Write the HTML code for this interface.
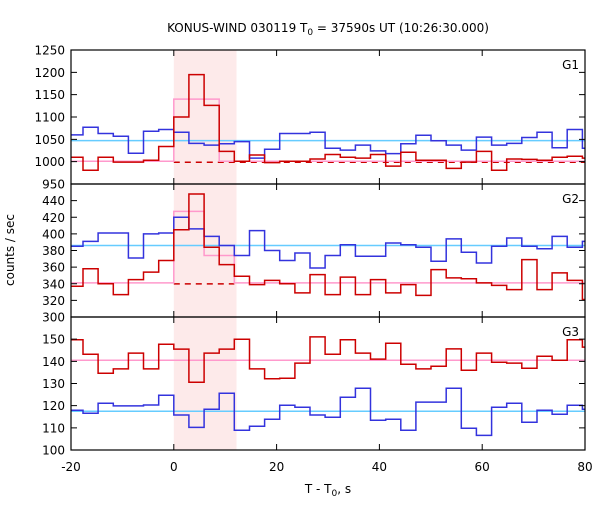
<!DOCTYPE html>
<html><head><meta charset="utf-8"><style>
body{margin:0;background:#fff}
svg text{font-family:"DejaVu Sans","Liberation Sans",sans-serif;font-size:12px;fill:#000}
</style></head><body>
<svg id="c" width="600" height="500"></svg>
<script>
const binWidth = 2.944;
const firstBin = -7;
const g1Blue = [1060,1077,1063,1057,1019,1068,1072,1066,1041,1037,1040,1045,1008,1028,1063,1063,1066,1030,1026,1037,1024,1018,1040,1059,1047,1037,1026,1055,1037,1041,1054,1066,1031,1072,1030];
const g1Red = [1010,981,1010,999,999,1003,1034,1100,1195,1126,1023,1001,1015,998,1001,1001,1006,1016,1010,1008,1016,990,1021,1003,1003,985,999,1023,981,1006,1005,1003,1010,1012,1008];
const g2Blue = [385,391,401,401,371,400,401,420,406,397,386,374,404,380,368,377,359,374,387,373,373,389,387,384,367,394,378,365,385,395,385,382,397,384,391];
const g2Red = [337,358,340,327,345,354,368,405,448,384,363,349,339,344,340,329,351,327,348,327,345,329,339,326,357,347,346,341,338,333,369,333,353,344,321];
const g3Blue = [117.9,116.6,121.1,119.9,119.9,120.3,124.7,115.8,110.2,118.4,125.6,108.9,110.7,113.9,120.2,119.3,115.8,114.8,123.8,127.9,113.4,113.9,108.9,121.6,121.6,127.9,109.8,106.6,119.3,121.1,112.5,117.9,116.1,120.2,118.4];
const g3Red = [149.7,143.2,134.6,136.6,143.7,136.6,147.7,145.5,130.6,143.7,145.5,150,136.6,132.1,132.4,139.2,151,143.2,149.7,143.7,141,148.2,138.7,136.6,137.8,145.6,136,143.7,139.6,139.2,136.9,142.3,140.5,149.7,146.4];
const bkgLevels = [1047, 386, 117.5];
const fitLevels = [1001, 341, 140.5];
const pulseG1 = [1140,1140,1140];
const pulseG2 = [427,427,374,374];
const xTicks = [-20,0,20,40,60,80];
const yTicks1 = [950,1000,1050,1100,1150,1200,1250];
const yTicks2 = [300,320,340,360,380,400,420,440];
const yTicks3 = [100,110,120,130,140,150];

const NS="http://www.w3.org/2000/svg";
const svg=document.getElementById('c');
const L=71,R=585;
const X=v=>L+(v+20)/100*(R-L);
const panels=[
 {lo:950,hi:1250,top:50,bot:184,ticks:yTicks1,name:'G1',blue:g1Blue,red:g1Red},
 {lo:300,hi:460,top:184,bot:317,ticks:yTicks2,name:'G2',blue:g2Blue,red:g2Red},
 {lo:100,hi:160,top:317,bot:450,ticks:yTicks3,name:'G3',blue:g3Blue,red:g3Red}];
function el(t,a,p){const e=document.createElementNS(NS,t);for(const k in a)e.setAttribute(k,a[k]);(p||svg).appendChild(e);return e;}
function stepPath(vals,Y){let d='';vals.forEach((v,i)=>{const k=firstBin+i;const x0=Math.max(k*binWidth,-20),x1=Math.min((k+1)*binWidth,80);
 if(x1<=x0)return; d+=(d?'L':'M')+X(x0).toFixed(1)+' '+Y(v).toFixed(1)+'H'+X(x1).toFixed(1);});return d;}
function segPath(segs,Y){let d='';segs.forEach(s=>{d+=(d?'L':'M')+X(s[0]).toFixed(1)+' '+Y(s[2]).toFixed(1)+'H'+X(s[1]).toFixed(1);});return d;}

const sh=el('rect',{x:X(0),y:50,width:X(12.2)-X(0),height:400,fill:'#fdeaea'});



panels.forEach((p,pi)=>{
 const Y=v=>p.bot-(v-p.lo)/(p.hi-p.lo)*(p.bot-p.top);
 const g=el('g',{});
 
 
 const cy=el('path',{d:'M'+X(-20)+' '+Y(bkgLevels[pi])+'H'+X(80),stroke:'#66ccff','stroke-width':1.5,fill:'none'},g);
 
 
 if(pi<2){
  const dEnd = pi===0?80:11.78;
  const dl=el('path',{d:'M'+X(0)+' '+(Y(fitLevels[pi])+1)+'H'+X(dEnd),stroke:'#cc0000','stroke-width':1.5,'stroke-dasharray':'6,5',fill:'none'},g);
  
  
 }
 let segs;
 if(pi===0){segs=[[-20,0,fitLevels[0]]];pulseG1.forEach((v,i)=>segs.push([i*binWidth,(i+1)*binWidth,v]));segs.push([3*binWidth,80,fitLevels[0]]);}
 else if(pi===1){segs=[[-20,0,fitLevels[1]]];pulseG2.forEach((v,i)=>segs.push([i*binWidth,(i+1)*binWidth,v]));segs.push([4*binWidth,80,fitLevels[1]]);}
 else segs=[[-20,80,fitLevels[2]]];
 const pk=el('path',{d:segPath(segs,Y),stroke:'#ff99cc','stroke-width':1.5,fill:'none'},g);
 
 
 const bl=el('path',{d:stepPath(p.blue,Y),stroke:'#3333dd','stroke-width':1.5,fill:'none'},g);
 
 
 const rd=el('path',{d:stepPath(p.red,Y),stroke:'#cc0000','stroke-width':1.5,fill:'none'},g);
 
 
 const fr=el('rect',{x:L,y:p.top,width:R-L,height:p.bot-p.top,fill:'none',stroke:'#000','stroke-width':1.2},g);
 
 
 p.ticks.forEach(t=>{const y=Y(t);
  el('path',{d:`M${L} ${y}h6M${R} ${y}h-6`,stroke:'#000','stroke-width':1},g);
  const tx=el('text',{x:L-6,y:y+4.5,'text-anchor':'end'},g);tx.textContent=t;
  
  
 });
 xTicks.forEach(t=>{const x=X(t);el('path',{d:`M${x} ${p.top}v6M${x} ${p.bot}v-6`,stroke:'#000','stroke-width':1},g);});
 const lb=el('text',{x:R-6,y:p.top+19,'text-anchor':'end'},g);lb.textContent=p.name;
 
 
});
xTicks.forEach(t=>{const tx=el('text',{x:X(t),y:471,'text-anchor':'middle'});tx.textContent=t;
 
 });
</script>
<svg width="600" height="500" style="position:absolute;left:0;top:0">
<text x="328" y="32" text-anchor="middle">KONUS-WIND 030119 T<tspan font-size="9" dy="3">0</tspan><tspan dy="-3"> = 37590s UT (10:26:30.000)</tspan></text>
<text x="14" y="250" text-anchor="middle" transform="rotate(-90 14 250)">counts / sec</text>
<text x="328" y="493" text-anchor="middle">T - T<tspan font-size="9" dy="3">0</tspan><tspan dy="-3">, s</tspan></text>
</svg>
</body></html>
